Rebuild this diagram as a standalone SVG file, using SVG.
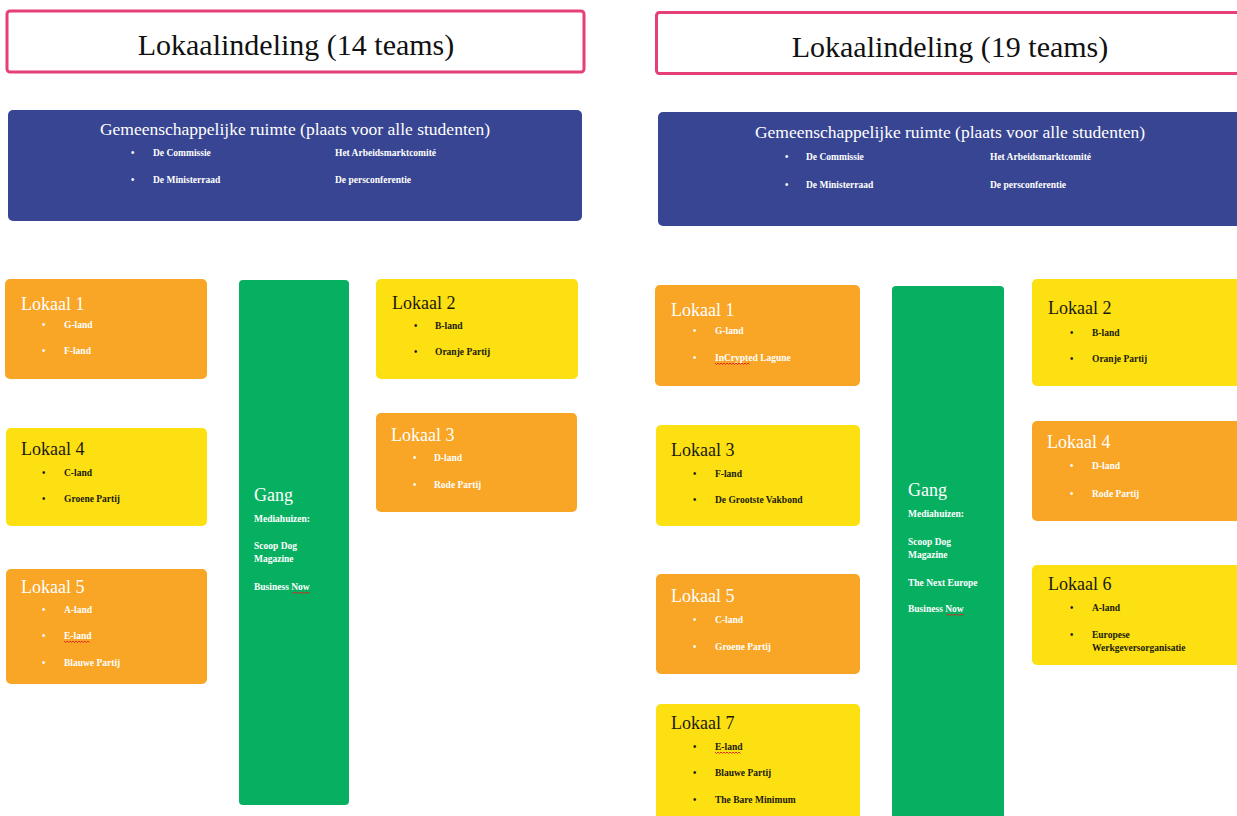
<svg xmlns="http://www.w3.org/2000/svg" width="1237" height="816" viewBox="0 0 1237 816">
<style>
text{font-family:"Liberation Serif","DejaVu Serif",serif}
.ttl{font-size:30px;fill:#111;text-anchor:middle}
.tbox{fill:#fff;stroke:#e63e78;stroke-width:3}
.blue{fill:#374592}
.org{fill:#f9a526}
.yel{fill:#fde012}
.grn{fill:#07b061}
.hd{font-size:17.5px;fill:#fff;text-anchor:middle}
.lk{font-size:18px}
.sm{font-size:9.5px;font-weight:bold}
.w{fill:#fff}
.k{fill:#1a1a0a}
.sq{fill:none;stroke:#e02020;stroke-width:0.9}
</style>
<g id="title-left"><rect class="tbox" x="7" y="11" width="577" height="61" rx="3"/><text class="ttl" x="296" y="55">Lokaalindeling (14 teams)</text></g>
<g id="title-right"><rect class="tbox" x="656.5" y="12.5" width="590" height="61" rx="3"/><text class="ttl" x="950" y="57">Lokaalindeling (19 teams)</text></g>

<g id="common-left"><rect class="blue" x="8" y="110" width="574" height="111" rx="5"/>
<text class="hd" x="295" y="135">Gemeenschappelijke ruimte (plaats voor alle studenten)</text>
<g class="sm w"><text x="131" y="156">•</text><text x="153" y="156">De Commissie</text><text x="335" y="156">Het Arbeidsmarktcomité</text>
<text x="131" y="183">•</text><text x="153" y="183">De Ministerraad</text><text x="335" y="183">De persconferentie</text></g></g>

<g id="common-right"><rect class="blue" x="658" y="112" width="590" height="114" rx="5"/>
<text class="hd" x="950" y="138">Gemeenschappelijke ruimte (plaats voor alle studenten)</text>
<g class="sm w"><text x="785" y="160">•</text><text x="806" y="160">De Commissie</text><text x="990" y="160">Het Arbeidsmarktcomité</text>
<text x="785" y="188">•</text><text x="806" y="188">De Ministerraad</text><text x="990" y="188">De persconferentie</text></g></g>

<!-- left layout -->
<g id="L-lokaal1"><rect class="org" x="5" y="279" width="202" height="100" rx="5"/>
<text class="lk w" x="21" y="310">Lokaal 1</text>
<g class="sm w"><text x="42" y="328">•</text><text x="64" y="328">G-land</text><text x="42" y="354">•</text><text x="64" y="354">F-land</text></g></g>

<g id="L-gang"><rect class="grn" x="239" y="280" width="110" height="525" rx="4"/>
<text class="lk w" x="254" y="501">Gang</text>
<g class="sm w"><text x="254" y="522">Mediahuizen:</text><text x="254" y="549">Scoop Dog</text><text x="254" y="562">Magazine</text><text x="254" y="590">Business Now</text></g>
<path class="sq" d="M292 592 l1.5 1.5 l1.5 -1.5 l1.5 1.5 l1.5 -1.5 l1.5 1.5 l1.5 -1.5 l1.5 1.5 l1.5 -1.5 l1.5 1.5 l1.5 -1.5 l1.5 1.5 l1.5 -1.5"/></g>

<g id="L-lokaal4"><rect class="yel" x="6" y="428" width="201" height="98" rx="5"/>
<text class="lk k" x="21" y="455">Lokaal 4</text>
<g class="sm k"><text x="42" y="476">•</text><text x="64" y="476">C-land</text><text x="42" y="502">•</text><text x="64" y="502">Groene Partij</text></g></g>

<g id="L-lokaal5"><rect class="org" x="6" y="569" width="201" height="115" rx="5"/>
<text class="lk w" x="21" y="593">Lokaal 5</text>
<g class="sm w"><text x="42" y="613">•</text><text x="64" y="613">A-land</text><text x="42" y="639">•</text><text x="64" y="639">E-land</text><text x="42" y="666">•</text><text x="64" y="666">Blauwe Partij</text></g>
<path class="sq" d="M64 641 l1.5 1.5 l1.5 -1.5 l1.5 1.5 l1.5 -1.5 l1.5 1.5 l1.5 -1.5 l1.5 1.5 l1.5 -1.5 l1.5 1.5 l1.5 -1.5 l1.5 1.5 l1.5 -1.5 l1.5 1.5 l1.5 -1.5 l1.5 1.5 l1.5 -1.5 l1.5 1.5"/></g>

<g id="L-lokaal2"><rect class="yel" x="376" y="279" width="202" height="100" rx="5"/>
<text class="lk k" x="392" y="309">Lokaal 2</text>
<g class="sm k"><text x="414" y="329">•</text><text x="435" y="329">B-land</text><text x="414" y="355">•</text><text x="435" y="355">Oranje Partij</text></g></g>

<g id="L-lokaal3"><rect class="org" x="376" y="413" width="201" height="99" rx="5"/>
<text class="lk w" x="391" y="441">Lokaal 3</text>
<g class="sm w"><text x="413" y="461">•</text><text x="434" y="461">D-land</text><text x="413" y="488">•</text><text x="434" y="488">Rode Partij</text></g></g>

<!-- right layout -->
<g id="R-lokaal1"><rect class="org" x="655" y="285" width="205" height="101" rx="5"/>
<text class="lk w" x="671" y="316">Lokaal 1</text>
<g class="sm w"><text x="693" y="334">•</text><text x="715" y="334">G-land</text><text x="693" y="361">•</text><text x="715" y="361">InCrypted Lagune</text></g>
<path class="sq" d="M715 363 l1.5 1.5 l1.5 -1.5 l1.5 1.5 l1.5 -1.5 l1.5 1.5 l1.5 -1.5 l1.5 1.5 l1.5 -1.5 l1.5 1.5 l1.5 -1.5 l1.5 1.5 l1.5 -1.5 l1.5 1.5 l1.5 -1.5 l1.5 1.5 l1.5 -1.5 l1.5 1.5 l1.5 -1.5 l1.5 1.5 l1.5 -1.5 l1.5 1.5 l1.5 -1.5 l1.5 1.5"/></g>

<g id="R-gang"><rect class="grn" x="892" y="286" width="112" height="540" rx="4"/>
<text class="lk w" x="908" y="496">Gang</text>
<g class="sm w"><text x="908" y="517">Mediahuizen:</text><text x="908" y="545">Scoop Dog</text><text x="908" y="558">Magazine</text><text x="908" y="586">The Next Europe</text><text x="908" y="612">Business Now</text></g>
<path class="sq" d="M946 614 l1.5 1.5 l1.5 -1.5 l1.5 1.5 l1.5 -1.5 l1.5 1.5 l1.5 -1.5 l1.5 1.5 l1.5 -1.5 l1.5 1.5 l1.5 -1.5 l1.5 1.5 l1.5 -1.5"/></g>

<g id="R-lokaal3"><rect class="yel" x="656" y="425" width="204" height="101" rx="5"/>
<text class="lk k" x="671" y="456">Lokaal 3</text>
<g class="sm k"><text x="693" y="477">•</text><text x="715" y="477">F-land</text><text x="693" y="503">•</text><text x="715" y="503">De Grootste Vakbond</text></g></g>

<g id="R-lokaal5"><rect class="org" x="656" y="574" width="204" height="100" rx="5"/>
<text class="lk w" x="671" y="602">Lokaal 5</text>
<g class="sm w"><text x="693" y="623">•</text><text x="715" y="623">C-land</text><text x="693" y="650">•</text><text x="715" y="650">Groene Partij</text></g></g>

<g id="R-lokaal7"><rect class="yel" x="656" y="704" width="204" height="125" rx="5"/>
<text class="lk k" x="671" y="729">Lokaal 7</text>
<g class="sm k"><text x="693" y="750">•</text><text x="715" y="750">E-land</text><text x="693" y="776">•</text><text x="715" y="776">Blauwe Partij</text><text x="693" y="803">•</text><text x="715" y="803">The Bare Minimum</text></g>
<path class="sq" d="M715 752 l1.5 1.5 l1.5 -1.5 l1.5 1.5 l1.5 -1.5 l1.5 1.5 l1.5 -1.5 l1.5 1.5 l1.5 -1.5 l1.5 1.5 l1.5 -1.5 l1.5 1.5 l1.5 -1.5 l1.5 1.5 l1.5 -1.5 l1.5 1.5 l1.5 -1.5 l1.5 1.5"/></g>

<g id="R-lokaal2"><rect class="yel" x="1032" y="279" width="210" height="107" rx="5"/>
<text class="lk k" x="1048" y="314">Lokaal 2</text>
<g class="sm k"><text x="1070" y="336">•</text><text x="1092" y="336">B-land</text><text x="1070" y="362">•</text><text x="1092" y="362">Oranje Partij</text></g></g>

<g id="R-lokaal4"><rect class="org" x="1032" y="421" width="210" height="100" rx="5"/>
<text class="lk w" x="1047" y="448">Lokaal 4</text>
<g class="sm w"><text x="1070" y="469">•</text><text x="1092" y="469">D-land</text><text x="1070" y="497">•</text><text x="1092" y="497">Rode Partij</text></g></g>

<g id="R-lokaal6"><rect class="yel" x="1032" y="565" width="210" height="100" rx="5"/>
<text class="lk k" x="1048" y="590">Lokaal 6</text>
<g class="sm k"><text x="1070" y="611">•</text><text x="1092" y="611">A-land</text><text x="1070" y="638">•</text><text x="1092" y="638">Europese</text><text x="1092" y="651">Werkgeversorganisatie</text></g></g>

<g id="connectors"/>
</svg>
